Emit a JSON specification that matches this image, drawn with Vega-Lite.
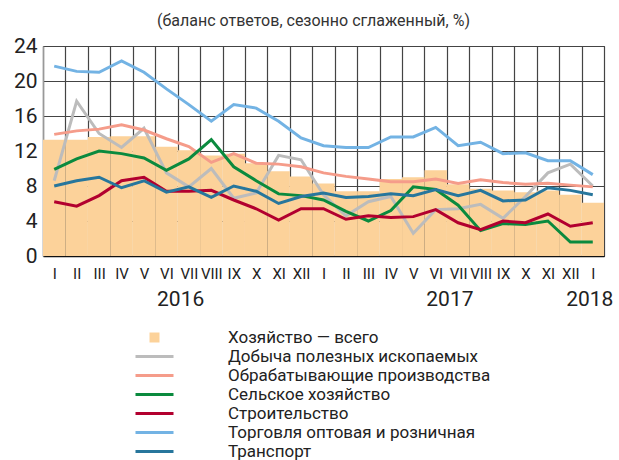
{
  "$schema": "https://vega.github.io/schema/vega-lite/v6.json",
  "width": 561,
  "height": 210,
  "autosize": {"type": "none"},
  "padding": {"left": 43, "top": 46, "right": 15, "bottom": 204},
  "background": "white",
  "title": {
    "text": "(баланс ответов, сезонно сглаженный, %)",
    "fontSize": 16,
    "fontWeight": "normal",
    "font": "Roboto",
    "color": "#333333",
    "offset": 6,
    "dx": -10,
    "anchor": "middle"
  },
  "config": {
    "view": {"stroke": "#333333", "strokeWidth": 1},
    "font": "Roboto",
    "axisY": {
      "title": null,
      "labelFontSize": 21,
      "labelColor": "#222222",
      "labelPadding": 6,
      "labelOverlap": false,
      "labelFlush": false,
      "ticks": false,
      "grid": true,
      "gridColor": "#444444",
      "gridWidth": 1.2,
      "domainColor": "#999999",
      "domainWidth": 1.5
    }
  },
  "datasets": {
    "d": [
      {"m": "2016-01", "Хозяйство — всего": 13.3, "Добыча полезных ископаемых": 8.6, "Обрабатывающие производства": 13.9, "Сельское хозяйство": 9.9, "Строительство": 6.2, "Торговля оптовая и розничная": 21.7, "Транспорт": 8.0},
      {"m": "2016-02", "Хозяйство — всего": 13.3, "Добыча полезных ископаемых": 17.7, "Обрабатывающие производства": 14.3, "Сельское хозяйство": 11.1, "Строительство": 5.7, "Торговля оптовая и розничная": 21.1, "Транспорт": 8.6},
      {"m": "2016-03", "Хозяйство — всего": 13.6, "Добыча полезных ископаемых": 14.0, "Обрабатывающие производства": 14.5, "Сельское хозяйство": 12.0, "Строительство": 6.9, "Торговля оптовая и розничная": 21.0, "Транспорт": 9.0},
      {"m": "2016-04", "Хозяйство — всего": 13.7, "Добыча полезных ископаемых": 12.4, "Обрабатывающие производства": 15.0, "Сельское хозяйство": 11.7, "Строительство": 8.6, "Торговля оптовая и розничная": 22.3, "Транспорт": 7.8},
      {"m": "2016-05", "Хозяйство — всего": 13.7, "Добыча полезных ископаемых": 14.6, "Обрабатывающие производства": 14.4, "Сельское хозяйство": 11.2, "Строительство": 9.0, "Торговля оптовая и розничная": 21.0, "Транспорт": 8.6},
      {"m": "2016-06", "Хозяйство — всего": 12.5, "Добыча полезных ископаемых": 9.5, "Обрабатывающие производства": 13.4, "Сельское хозяйство": 9.8, "Строительство": 7.4, "Торговля оптовая и розничная": 19.1, "Транспорт": 7.3},
      {"m": "2016-07", "Хозяйство — всего": 12.1, "Добыча полезных ископаемых": 7.9, "Обрабатывающие производства": 12.5, "Сельское хозяйство": 11.1, "Строительство": 7.4, "Торговля оптовая и розничная": 17.3, "Транспорт": 7.9},
      {"m": "2016-08", "Хозяйство — всего": 11.5, "Добыча полезных ископаемых": 10.0, "Обрабатывающие производства": 10.7, "Сельское хозяйство": 13.3, "Строительство": 7.5, "Торговля оптовая и розничная": 15.4, "Транспорт": 6.7},
      {"m": "2016-09", "Хозяйство — всего": 11.7, "Добыча полезных ископаемых": 6.6, "Обрабатывающие производства": 11.7, "Сельское хозяйство": 10.2, "Строительство": 6.4, "Торговля оптовая и розничная": 17.3, "Транспорт": 8.0},
      {"m": "2016-10", "Хозяйство — всего": 10.6, "Добыча полезных ископаемых": 7.2, "Обрабатывающие производства": 10.6, "Сельское хозяйство": 8.6, "Строительство": 5.4, "Торговля оптовая и розничная": 16.9, "Транспорт": 7.4},
      {"m": "2016-11", "Хозяйство — всего": 9.7, "Добыча полезных ископаемых": 11.5, "Обрабатывающие производства": 10.5, "Сельское хозяйство": 7.1, "Строительство": 4.1, "Торговля оптовая и розничная": 15.4, "Транспорт": 6.0},
      {"m": "2016-12", "Хозяйство — всего": 9.1, "Добыча полезных ископаемых": 11.0, "Обрабатывающие производства": 10.2, "Сельское хозяйство": 6.9, "Строительство": 5.4, "Торговля оптовая и розничная": 13.5, "Транспорт": 6.8},
      {"m": "2017-01", "Хозяйство — всего": 8.3, "Добыча полезных ископаемых": 7.0, "Обрабатывающие производства": 9.5, "Сельское хозяйство": 6.4, "Строительство": 5.4, "Торговля оптовая и розничная": 12.6, "Транспорт": 7.2},
      {"m": "2017-02", "Хозяйство — всего": 7.4, "Добыча полезных ископаемых": 4.6, "Обрабатывающие производства": 9.1, "Сельское хозяйство": 5.1, "Строительство": 4.2, "Торговля оптовая и розничная": 12.4, "Транспорт": 6.7},
      {"m": "2017-03", "Хозяйство — всего": 7.4, "Добыча полезных ископаемых": 6.2, "Обрабатывающие производства": 8.8, "Сельское хозяйство": 4.0, "Строительство": 4.6, "Торговля оптовая и розничная": 12.4, "Транспорт": 6.8},
      {"m": "2017-04", "Хозяйство — всего": 8.8, "Добыча полезных ископаемых": 6.8, "Обрабатывающие производства": 8.5, "Сельское хозяйство": 5.2, "Строительство": 4.4, "Торговля оптовая и розничная": 13.6, "Транспорт": 7.1},
      {"m": "2017-05", "Хозяйство — всего": 9.0, "Добыча полезных ископаемых": 2.6, "Обрабатывающие производства": 8.5, "Сельское хозяйство": 7.9, "Строительство": 4.5, "Торговля оптовая и розничная": 13.6, "Транспорт": 6.9},
      {"m": "2017-06", "Хозяйство — всего": 9.8, "Добыча полезных ископаемых": 5.3, "Обрабатывающие производства": 8.8, "Сельское хозяйство": 7.6, "Строительство": 5.3, "Торговля оптовая и розничная": 14.7, "Транспорт": 7.6},
      {"m": "2017-07", "Хозяйство — всего": 8.2, "Добыча полезных ископаемых": 5.4, "Обрабатывающие производства": 8.3, "Сельское хозяйство": 5.8, "Строительство": 3.8, "Торговля оптовая и розничная": 12.6, "Транспорт": 6.9},
      {"m": "2017-08", "Хозяйство — всего": 7.7, "Добыча полезных ископаемых": 5.9, "Обрабатывающие производства": 8.7, "Сельское хозяйство": 2.9, "Строительство": 3.0, "Торговля оптовая и розничная": 13.0, "Транспорт": 7.5},
      {"m": "2017-09", "Хозяйство — всего": 7.5, "Добыча полезных ископаемых": 4.3, "Обрабатывающие производства": 8.4, "Сельское хозяйство": 3.7, "Строительство": 4.0, "Торговля оптовая и розничная": 11.7, "Транспорт": 6.3},
      {"m": "2017-10", "Хозяйство — всего": 7.3, "Добыча полезных ископаемых": 6.8, "Обрабатывающие производства": 8.2, "Сельское хозяйство": 3.6, "Строительство": 3.8, "Торговля оптовая и розничная": 11.8, "Транспорт": 6.4},
      {"m": "2017-11", "Хозяйство — всего": 7.5, "Добыча полезных ископаемых": 9.5, "Обрабатывающие производства": 8.3, "Сельское хозяйство": 4.0, "Строительство": 4.8, "Торговля оптовая и розничная": 10.9, "Транспорт": 7.8},
      {"m": "2017-12", "Хозяйство — всего": 7.0, "Добыча полезных ископаемых": 10.5, "Обрабатывающие производства": 8.1, "Сельское хозяйство": 1.6, "Строительство": 3.4, "Торговля оптовая и розничная": 10.9, "Транспорт": 7.5},
      {"m": "2018-01", "Хозяйство — всего": 6.1, "Добыча полезных ископаемых": 8.0, "Обрабатывающие производства": 7.9, "Сельское хозяйство": 1.6, "Строительство": 3.8, "Торговля оптовая и розничная": 9.3, "Транспорт": 7.0}
    ],
    "years": [
      {"m": "2016-07", "t": "2016"},
      {"m": "2017-07", "t": "2017"}
    ],
    "years2": [
      {"m": "2018-01", "t": "2018"}
    ]
  },
  "layer": [
    {
      "data": {"name": "d"},
      "transform": [
        {"fold": ["Хозяйство — всего"], "as": ["s", "v"]}
      ],
      "mark": {"type": "bar", "width": {"band": 1}},
      "encoding": {
        "x": {
          "field": "m",
          "type": "ordinal",
          "sort": null,
          "scale": {"paddingInner": 0, "paddingOuter": 0},
          "axis": {
            "title": null,
            "labelExpr": "['I','II','III','IV','V','VI','VII','VIII','IX','X','XI','XII'][toNumber(substring(datum.value, 5, 7)) - 1]",
            "labelAngle": 0,
            "labelFontSize": 15,
            "labelColor": "#222222",
            "labelPadding": 10,
            "labelOverlap": false,
            "ticks": false,
            "tickBand": "extent",
            "grid": true,
            "gridColor": "#444444",
            "gridWidth": 1.2,
            "domainColor": "#111111",
            "domainWidth": 1.5
          }
        },
        "y": {
          "field": "v",
          "type": "quantitative",
          "scale": {"domain": [0, 24], "nice": false, "zero": true},
          "axis": {"values": [0, 4, 8, 12, 16, 20, 24]}
        },
        "color": {
          "field": "s",
          "type": "nominal",
          "scale": {
            "domain": ["Хозяйство — всего", "Добыча полезных ископаемых", "Обрабатывающие производства", "Сельское хозяйство", "Строительство", "Торговля оптовая и розничная", "Транспорт"],
            "range": ["#fcd29a", "#bcbcbc", "#f59c8a", "#0a8a3e", "#b2002f", "#73b3e4", "#27769c"]
          },
          "legend": {
            "orient": "none",
            "legendX": 103,
            "legendY": 283,
            "title": null,
            "direction": "vertical",
            "labelFontSize": 17,
            "labelColor": "#222222",
            "labelLimit": 0,
            "symbolType": "stroke",
            "symbolSize": 1444,
            "symbolStrokeWidth": 3,
            "rowPadding": 1,
            "labelOffset": 65,
            "encode": {
              "symbols": {
                "update": {
                  "shape": {"signal": "datum.label === 'Хозяйство — всего' ? 'square' : 'stroke'"},
                  "size": {"signal": "datum.label === 'Хозяйство — всего' ? 100 : 1444"},
                  "fill": {"signal": "scale('color', datum.value)"},
                  "stroke": {"signal": "scale('color', datum.value)"},
                  "strokeWidth": {"signal": "datum.label === 'Хозяйство — всего' ? 0 : 3"},
                  "opacity": {"value": 1}
                }
              }
            }
          }
        }
      }
    },
    {
      "data": {"name": "d"},
      "transform": [
        {"fold": ["Добыча полезных ископаемых", "Обрабатывающие производства", "Сельское хозяйство", "Строительство", "Торговля оптовая и розничная", "Транспорт"], "as": ["s", "v"]}
      ],
      "mark": {"type": "line", "strokeWidth": 3},
      "encoding": {
        "x": {"field": "m", "type": "ordinal", "sort": null},
        "y": {"field": "v", "type": "quantitative", "axis": {"values": [0, 4, 8, 12, 16, 20, 24]}},
        "color": {"field": "s", "type": "nominal"}
      }
    },
    {
      "data": {"name": "years"},
      "mark": {"type": "text", "fontSize": 21, "color": "#222222", "baseline": "middle", "align": "center", "dy": 44, "dx": 3},
      "encoding": {
        "x": {"field": "m", "type": "ordinal", "bandPosition": 0},
        "y": {"datum": 0, "type": "quantitative", "axis": {"values": [0, 4, 8, 12, 16, 20, 24]}},
        "text": {"field": "t"}
      }
    },
    {
      "data": {"name": "years2"},
      "mark": {"type": "text", "fontSize": 21, "color": "#222222", "baseline": "middle", "align": "center", "dy": 44, "dx": -3},
      "encoding": {
        "x": {"field": "m", "type": "ordinal", "bandPosition": 0.5},
        "y": {"datum": 0, "type": "quantitative", "axis": {"values": [0, 4, 8, 12, 16, 20, 24]}},
        "text": {"field": "t"}
      }
    }
  ]
}
